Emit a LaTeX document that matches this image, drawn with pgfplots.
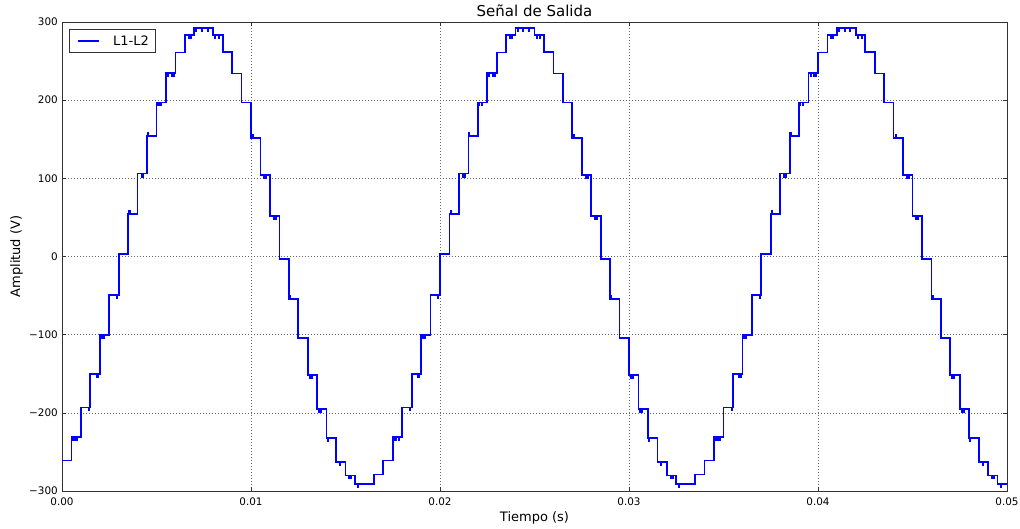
\documentclass[border=0pt]{standalone}
\usepackage{fontspec}
\setmainfont{DejaVu Sans}
\usepackage{pgfplots}
\pgfplotsset{compat=1.18}
\definecolor{mplblue}{rgb}{0,0,1}
\begin{document}
\begin{tikzpicture}
\begin{axis}[
 name=ax,
 scale only axis, width=945pt, height=469pt,
 xmin=0, xmax=0.05, ymin=-300, ymax=300,
 xtick={0,0.01,0.02,0.03,0.04,0.05},
 xticklabels={0.00,0.01,0.02,0.03,0.04,0.05},
 ytick={-300,-200,-100,0,100,200,300},
 yticklabels={−300,−200,−100,0,100,200,300},
 tick align=inside, major tick length=4pt,
 tick style={black!80, line width=0.6pt},
 axis line style={black!80, line width=0.9pt},
 grid=major,
 major grid style={black!60, line width=0.6pt, dash pattern=on 1pt off 2pt},
 xticklabel style={font=\fontsize{10.4}{12}\selectfont, anchor=base, yshift=-15pt},
 yticklabel style={font=\fontsize{10.4}{12}\selectfont, anchor=east, inner sep=0pt, xshift=-4pt},
 title={Señal de Salida},
 title style={font=\fontsize{15}{18}\selectfont, at={(axis description cs:0.5,0.99787)}, anchor=base},
 xlabel={Tiempo (s)},
 xlabel style={font=\fontsize{13}{15}\selectfont, at={(axis description cs:0.5,-0.0661)}, anchor=base},
 ylabel={Amplitud (V)},
 ylabel style={font=\fontsize{13}{15}\selectfont, at={(axis description cs:-0.04444,0.5)}, anchor=base},
 legend style={at={(axis description cs:0,1)}, anchor=north west, xshift=7pt, yshift=-7pt, draw=black!80, line width=0.8pt, font=\fontsize{13}{15}\selectfont, inner xsep=6.7pt, inner ysep=0pt, column sep=0pt, nodes={inner sep=0pt}, cells={anchor=west}},
 legend image code/.code={\path[draw=none, fill=none] (-2pt,-11.7pt) rectangle (35pt,11.7pt); \draw[#1, draw=mplblue, line width=1.5pt] (0pt,0pt) -- (20.6pt,0pt);},
]
\addplot[draw=mplblue, line width=1.7pt, const plot mark left] coordinates {
(0,-261)
(0.0005,-231)(0.0006,-235)(0.00062,-231)(0.00068,-235)(0.0007,-231)(0.0008,-235)(0.00082,-231)
(0.001,-193)(0.00142,-197)(0.00144,-193)
(0.0015,-150)(0.00182,-154)(0.00184,-150)(0.0019,-154)(0.00192,-150)
(0.002,-100)(0.0021,-104)(0.00212,-100)(0.0022,-104)(0.00222,-100)
(0.0025,-49)(0.0029,-53)(0.00292,-49)
(0.003,3)
(0.0035,54)(0.00355,58)(0.0036,54)
(0.004,106)(0.0042,102)(0.00422,106)(0.0043,102)(0.00432,106)
(0.0045,154)(0.00452,158)(0.00456,154)
(0.005,197)(0.00506,193)(0.00508,197)(0.0052,193)(0.00522,197)
(0.0055,235)(0.0056,231)(0.00562,235)(0.0058,231)(0.00582,235)(0.0059,231)(0.00592,235)
(0.006,261)
(0.0065,283)(0.0067,279)(0.00672,283)(0.0068,279)(0.00682,283)
(0.007,292)(0.0071,288)(0.00712,292)(0.0074,288)(0.00742,292)
(0.0075,292)(0.0077,288)(0.00772,292)
(0.008,283)(0.0081,279)(0.00812,283)(0.0083,279)(0.00832,283)
(0.0085,262)
(0.009,234)
(0.0095,197)
(0.01,152)(0.0101,156)(0.01012,152)
(0.0105,104)(0.0107,100)(0.01072,104)(0.0108,100)(0.01082,104)
(0.011,52)(0.0112,48)(0.01122,52)(0.0113,48)(0.01132,52)
(0.0115,-3)
(0.012,-54)(0.01205,-50)(0.01207,-54)
(0.0125,-104)
(0.013,-152)(0.0131,-156)(0.01312,-152)(0.0132,-156)(0.01322,-152)
(0.0135,-195)(0.0136,-199)(0.01362,-195)(0.0137,-199)(0.01372,-195)
(0.014,-232)(0.01405,-236)(0.01407,-232)
(0.0145,-263)(0.0147,-267)(0.01472,-263)
(0.015,-280)(0.0152,-284)(0.01522,-280)(0.0153,-284)(0.01532,-280)
(0.0155,-291)(0.01565,-295)(0.01567,-291)
(0.016,-291)
(0.0165,-279)
(0.017,-261)
(0.0175,-231)(0.0176,-235)(0.01762,-231)(0.01768,-235)(0.0177,-231)(0.0178,-235)(0.01782,-231)
(0.018,-193)(0.01842,-197)(0.01844,-193)
(0.0185,-150)(0.01882,-154)(0.01884,-150)(0.0189,-154)(0.01892,-150)
(0.019,-100)(0.0191,-104)(0.01912,-100)(0.0192,-104)(0.01922,-100)
(0.0195,-49)(0.0199,-53)(0.01992,-49)
(0.02,3)
(0.0205,54)(0.02055,58)(0.0206,54)
(0.021,106)(0.0212,102)(0.02122,106)(0.0213,102)(0.02132,106)
(0.0215,154)(0.02152,158)(0.02156,154)
(0.022,197)(0.02206,193)(0.02208,197)(0.0222,193)(0.02222,197)
(0.0225,235)(0.0226,231)(0.02262,235)(0.0228,231)(0.02282,235)(0.0229,231)(0.02292,235)
(0.023,261)
(0.0235,283)(0.0237,279)(0.02372,283)(0.0238,279)(0.02382,283)
(0.024,292)(0.0241,288)(0.02412,292)(0.0244,288)(0.02442,292)
(0.0245,292)(0.0247,288)(0.02472,292)
(0.025,283)(0.0251,279)(0.02512,283)(0.0253,279)(0.02532,283)
(0.0255,262)
(0.026,234)
(0.0265,197)
(0.027,152)(0.0271,156)(0.02712,152)
(0.0275,104)(0.0277,100)(0.02772,104)(0.0278,100)(0.02782,104)
(0.028,52)(0.0282,48)(0.02822,52)(0.0283,48)(0.02832,52)
(0.0285,-3)
(0.029,-54)(0.02905,-50)(0.02907,-54)
(0.0295,-104)
(0.03,-152)(0.0301,-156)(0.03012,-152)(0.0302,-156)(0.03022,-152)
(0.0305,-195)(0.0306,-199)(0.03062,-195)(0.0307,-199)(0.03072,-195)
(0.031,-232)(0.03105,-236)(0.03107,-232)
(0.0315,-263)(0.0317,-267)(0.03172,-263)
(0.032,-280)(0.0322,-284)(0.03222,-280)(0.0323,-284)(0.03232,-280)
(0.0325,-291)(0.03265,-295)(0.03267,-291)
(0.033,-291)
(0.0335,-279)
(0.034,-261)
(0.0345,-231)(0.0346,-235)(0.03462,-231)(0.03468,-235)(0.0347,-231)(0.0348,-235)(0.03482,-231)
(0.035,-193)(0.03542,-197)(0.03544,-193)
(0.0355,-150)(0.03582,-154)(0.03584,-150)(0.0359,-154)(0.03592,-150)
(0.036,-100)(0.0361,-104)(0.03612,-100)(0.0362,-104)(0.03622,-100)
(0.0365,-49)(0.0369,-53)(0.03692,-49)
(0.037,3)
(0.0375,54)(0.03755,58)(0.0376,54)
(0.038,106)(0.0382,102)(0.03822,106)(0.0383,102)(0.03832,106)
(0.0385,154)(0.03852,158)(0.03856,154)
(0.039,197)(0.03906,193)(0.03908,197)(0.0392,193)(0.03922,197)
(0.0395,235)(0.0396,231)(0.03962,235)(0.0398,231)(0.03982,235)(0.0399,231)(0.03992,235)
(0.04,261)
(0.0405,283)(0.0407,279)(0.04072,283)(0.0408,279)(0.04082,283)
(0.041,292)(0.0411,288)(0.04112,292)(0.0414,288)(0.04142,292)
(0.0415,292)(0.0417,288)(0.04172,292)
(0.042,283)(0.0421,279)(0.04212,283)(0.0423,279)(0.04232,283)
(0.0425,262)
(0.043,234)
(0.0435,197)
(0.044,152)(0.0441,156)(0.04412,152)
(0.0445,104)(0.0447,100)(0.04472,104)(0.0448,100)(0.04482,104)
(0.045,52)(0.0452,48)(0.04522,52)(0.0453,48)(0.04532,52)
(0.0455,-3)
(0.046,-54)(0.04605,-50)(0.04607,-54)
(0.0465,-104)
(0.047,-152)(0.0471,-156)(0.04712,-152)(0.0472,-156)(0.04722,-152)
(0.0475,-195)(0.0476,-199)(0.04762,-195)(0.0477,-199)(0.04772,-195)
(0.048,-232)(0.04805,-236)(0.04807,-232)
(0.0485,-263)(0.0487,-267)(0.04872,-263)
(0.049,-280)(0.0492,-284)(0.04922,-280)(0.0493,-284)(0.04932,-280)
(0.0495,-291)(0.04965,-295)(0.04967,-291)
(0.05,-291)
};
\addlegendentry{L1-L2}
\end{axis}
\pgfresetboundingbox
\path ([xshift=-62pt,yshift=-38pt]ax.south west) rectangle ([xshift=13pt,yshift=22pt]ax.north east);
\end{tikzpicture}
\end{document}
